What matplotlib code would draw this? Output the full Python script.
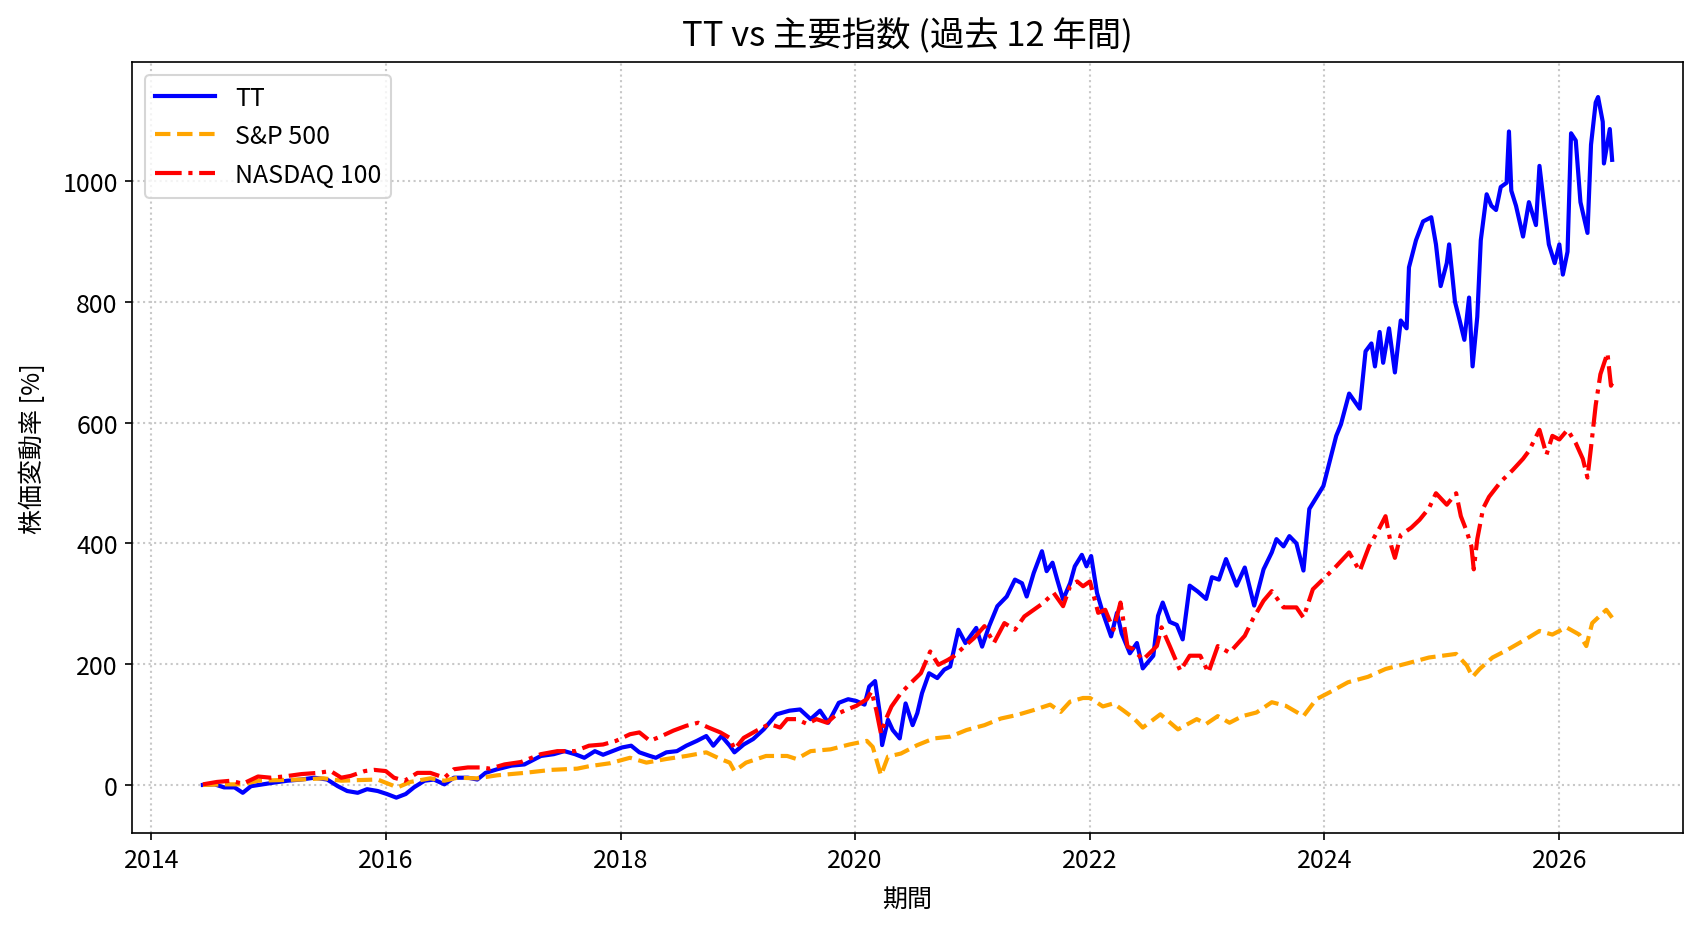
import pandas as pd
import matplotlib
matplotlib.use("Agg")
import matplotlib.pyplot as plt
import matplotlib.dates as mdates

plt.rcParams['font.family'] = ['Noto Sans CJK JP', 'DejaVu Sans']

# values (decimal year, % change)
tt_t = [2014.44, 2014.54, 2014.62, 2014.71, 2014.78, 2014.85, 2014.95, 2015.05, 2015.16, 2015.28,
        2015.39, 2015.50, 2015.59, 2015.67, 2015.76, 2015.84, 2015.93, 2016.01, 2016.09, 2016.17,
        2016.24, 2016.33, 2016.41, 2016.50, 2016.58, 2016.70, 2016.78, 2016.85, 2016.95, 2017.07,
        2017.18, 2017.32, 2017.43, 2017.52, 2017.61, 2017.69, 2017.78, 2017.85, 2018.01, 2018.09,
        2018.16, 2018.25, 2018.30, 2018.39, 2018.48, 2018.56, 2018.65, 2018.73, 2018.79, 2018.86,
        2018.93, 2018.97, 2019.05, 2019.13, 2019.22, 2019.33, 2019.44, 2019.53, 2019.62, 2019.70,
        2019.77, 2019.86, 2019.94, 2020.01, 2020.08, 2020.12, 2020.17, 2020.21, 2020.23, 2020.28,
        2020.32, 2020.38, 2020.43, 2020.49, 2020.53, 2020.57, 2020.63, 2020.70, 2020.76, 2020.81,
        2020.88, 2020.94, 2021.03, 2021.08, 2021.14, 2021.21, 2021.29, 2021.36, 2021.42, 2021.46,
        2021.52, 2021.59, 2021.63, 2021.68, 2021.72, 2021.77, 2021.83, 2021.87, 2021.93, 2021.97,
        2022.01, 2022.06, 2022.11, 2022.18, 2022.23, 2022.27, 2022.34, 2022.40, 2022.45, 2022.54,
        2022.58, 2022.62, 2022.68, 2022.74, 2022.79, 2022.85, 2022.92, 2022.99, 2023.04, 2023.10,
        2023.16, 2023.25, 2023.32, 2023.40, 2023.48, 2023.55, 2023.59, 2023.65, 2023.70, 2023.76,
        2023.82, 2023.87, 2023.99, 2024.05, 2024.10, 2024.14, 2024.21, 2024.30, 2024.35, 2024.40,
        2024.43, 2024.47, 2024.50, 2024.55, 2024.60, 2024.65, 2024.70, 2024.72, 2024.78, 2024.84,
        2024.91, 2024.95, 2024.99, 2025.04, 2025.06, 2025.11, 2025.15, 2025.19, 2025.23, 2025.26,
        2025.30, 2025.33, 2025.38, 2025.42, 2025.46, 2025.50, 2025.55, 2025.57, 2025.59, 2025.63,
        2025.69, 2025.74, 2025.80, 2025.83, 2025.87, 2025.91, 2025.96, 2026.00, 2026.03, 2026.07,
        2026.10, 2026.14, 2026.18, 2026.24, 2026.27, 2026.31, 2026.33, 2026.37, 2026.38, 2026.43,
        2026.45]
tt_v = [0, 1, -4, -4, -13, -2, 1, 4, 7, 9,
        12, 9, -2, -10, -13, -7, -10, -15, -21, -15,
        -4, 7, 9, 1, 12, 12, 9, 20, 26, 32,
        34, 48, 51, 56, 51, 45, 56, 50, 62, 65,
        54, 48, 45, 54, 56, 65, 73, 81, 65, 81,
        65, 54, 67, 76, 92, 117, 123, 125, 109, 123,
        103, 136, 142, 139, 133, 163, 172, 119, 66, 108,
        91, 77, 135, 99, 119, 152, 185, 177, 191, 196,
        257, 235, 260, 229, 263, 296, 312, 340, 334, 312,
        351, 387, 354, 368, 340, 307, 334, 362, 381, 362,
        379, 318, 285, 246, 285, 251, 218, 235, 193, 214,
        280, 302, 270, 265, 241, 330, 320, 308, 344, 340,
        374, 330, 360, 297, 357, 385, 407, 395, 412, 400,
        355, 457, 495, 540, 578, 597, 648, 623, 718, 731,
        693, 750, 699, 756, 683, 769, 756, 857, 902, 933,
        940, 895, 826, 864, 895, 800, 769, 737, 807, 693,
        775, 902, 978, 959, 952, 990, 997, 1082, 984, 959,
        908, 965, 927, 1025, 959, 895, 864, 895, 845, 883,
        1079, 1067, 965, 914, 1060, 1130, 1139, 1098, 1029, 1086,
        1035]

spx_t = [2014.44, 2014.62, 2014.78, 2014.91, 2015.08, 2015.28, 2015.47, 2015.62, 2015.76, 2015.93,
         2016.10, 2016.21, 2016.38, 2016.50, 2016.61, 2016.78, 2016.95, 2017.18, 2017.41, 2017.63,
         2017.73, 2017.91, 2018.08, 2018.22, 2018.39, 2018.56, 2018.73, 2018.85, 2018.93, 2018.97,
         2019.07, 2019.24, 2019.42, 2019.50, 2019.62, 2019.79, 2019.95, 2020.10, 2020.15, 2020.22,
         2020.28, 2020.39, 2020.53, 2020.67, 2020.81, 2020.95, 2021.10, 2021.24, 2021.38, 2021.52,
         2021.66, 2021.75, 2021.83, 2021.94, 2022.00, 2022.11, 2022.20, 2022.28, 2022.37, 2022.45,
         2022.60, 2022.75, 2022.91, 2022.99, 2023.09, 2023.19, 2023.30, 2023.42, 2023.55, 2023.67,
         2023.82, 2023.93, 2024.04, 2024.20, 2024.37, 2024.52, 2024.70, 2024.89, 2025.12, 2025.21,
         2025.26, 2025.32, 2025.43, 2025.55, 2025.72, 2025.83, 2025.94, 2026.06, 2026.17, 2026.23,
         2026.28, 2026.40, 2026.45]
spx_v = [0, 1, 1, 7, 8, 9, 11, 7, 8, 9,
         -4, 5, 11, 7, 12, 11, 16, 20, 25, 27,
         31, 36, 45, 37, 43, 48, 54, 43, 37, 23,
         37, 48, 48, 43, 56, 59, 67, 73, 63, 16,
         47, 52, 66, 77, 80, 91, 99, 110, 116, 124,
         133, 121, 138, 144, 144, 130, 135, 124, 111, 95,
         117, 92, 109, 101, 114, 103, 114, 120, 137, 131,
         114, 142, 153, 170, 179, 192, 201, 211, 217, 198,
         179, 192, 211, 223, 242, 255, 249, 261, 249, 230,
         268, 290, 277]

ndx_t = [2014.44, 2014.56, 2014.68, 2014.78, 2014.91, 2015.02, 2015.13, 2015.28, 2015.42, 2015.53,
         2015.62, 2015.70, 2015.82, 2015.90, 2016.00, 2016.07, 2016.16, 2016.27, 2016.38, 2016.50,
         2016.58, 2016.70, 2016.81, 2016.89, 2017.01, 2017.15, 2017.32, 2017.46, 2017.61, 2017.73,
         2017.85, 2017.96, 2018.08, 2018.16, 2018.25, 2018.35, 2018.45, 2018.56, 2018.66, 2018.75,
         2018.85, 2018.93, 2018.97, 2019.05, 2019.16, 2019.27, 2019.36, 2019.42, 2019.50, 2019.59,
         2019.67, 2019.76, 2019.84, 2019.93, 2020.01, 2020.10, 2020.14, 2020.18, 2020.22, 2020.26,
         2020.31, 2020.39, 2020.47, 2020.56, 2020.64, 2020.71, 2020.79, 2020.84, 2020.93, 2021.01,
         2021.10, 2021.18, 2021.27, 2021.36, 2021.44, 2021.52, 2021.60, 2021.69, 2021.77, 2021.83,
         2021.89, 2021.94, 2022.00, 2022.07, 2022.13, 2022.20, 2022.26, 2022.32, 2022.37, 2022.45,
         2022.57, 2022.61, 2022.68, 2022.77, 2022.85, 2022.94, 2023.01, 2023.09, 2023.19, 2023.32,
         2023.39, 2023.48, 2023.55, 2023.65, 2023.76, 2023.82, 2023.90, 2023.99, 2024.09, 2024.21,
         2024.30, 2024.38, 2024.47, 2024.52, 2024.57, 2024.60, 2024.65, 2024.74, 2024.81, 2024.89,
         2024.95, 2025.04, 2025.12, 2025.16, 2025.21, 2025.25, 2025.27, 2025.30, 2025.35, 2025.40,
         2025.50, 2025.60, 2025.69, 2025.74, 2025.83, 2025.89, 2025.94, 2026.00, 2026.07, 2026.14,
         2026.20, 2026.24, 2026.27, 2026.31, 2026.35, 2026.41, 2026.44, 2026.45]
ndx_v = [1, 5, 7, 2, 14, 12, 14, 18, 20, 23,
         12, 15, 23, 25, 23, 12, 7, 20, 20, 12,
         26, 29, 29, 27, 34, 38, 51, 56, 56, 65,
         67, 73, 84, 87, 73, 81, 90, 98, 103, 95,
         87, 78, 59, 78, 90, 101, 95, 109, 109, 101,
         109, 103, 117, 125, 131, 142, 155, 124, 85, 108,
         130, 152, 168, 185, 221, 199, 207, 213, 229, 243,
         263, 235, 268, 257, 279, 290, 301, 318, 296, 329,
         337, 329, 337, 285, 290, 257, 302, 229, 225, 207,
         230, 261, 230, 189, 214, 214, 186, 230, 219, 247,
         275, 305, 321, 294, 294, 277, 324, 341, 360, 385,
         354, 395, 426, 445, 395, 376, 414, 426, 439, 458,
         483, 464, 483, 445, 420, 395, 357, 407, 458, 477,
         502, 521, 540, 553, 588, 547, 578, 572, 588, 566,
         540, 509, 559, 629, 680, 715, 661, 665]


def to_dates(years):
    out = []
    for y in years:
        yr = int(y)
        out.append(pd.Timestamp(yr, 1, 1) + pd.Timedelta(days=(y - yr) * 365.25))
    return out


fig = plt.figure(figsize=(1702 / 150, 932 / 150), dpi=150)
ax = fig.add_axes([0.0778, 0.1055, 0.9108, 0.8269])

ax.plot(to_dates(tt_t), tt_v, color='blue', lw=2.0, label='TT')
ax.plot(to_dates(spx_t), spx_v, color='orange', lw=2.0, ls='--', label='S&P 500')
ax.plot(to_dates(ndx_t), ndx_v, color='red', lw=2.0, ls='-.', label='NASDAQ 100')

ax.xaxis.set_major_locator(mdates.YearLocator(2))
ax.xaxis.set_major_formatter(mdates.DateFormatter('%Y'))
ax.tick_params(labelsize=12)

ax.set_title('TT vs 主要指数 (過去 12 年間)', fontsize=16.5, pad=8)
ax.set_xlabel('期間', fontsize=12, labelpad=6)
ax.set_ylabel('株価変動率 [%]', fontsize=12, labelpad=8)
ax.grid(True, ls=':', color='#c8c8c8', lw=1)
ax.legend(loc='upper left', fontsize=12, handlelength=2.4)

fig.savefig('out.png', dpi=150)
